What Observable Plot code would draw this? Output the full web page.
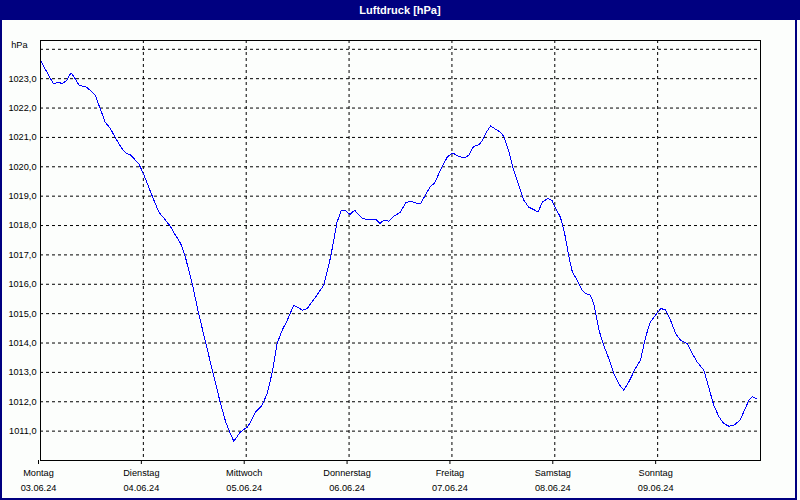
<!DOCTYPE html>
<html><head><meta charset="utf-8">
<script src="https://cdn.jsdelivr.net/npm/d3@7"></script>
<script src="https://cdn.jsdelivr.net/npm/@observablehq/plot@0.6"></script>
<style>
html,body{margin:0;padding:0;background:#fcfefc;width:800px;height:500px;overflow:hidden;}
#title{position:absolute;left:0;top:0;width:800px;height:20px;background:#000080;color:#fff;font:bold 11px "Liberation Sans",sans-serif;text-align:center;line-height:20px;}
#win{position:absolute;left:0;top:20px;width:797px;height:480px;box-sizing:border-box;border-left:2px solid #000080;border-right:2px solid #000080;border-bottom:2px solid #000080;background:#fcfefc;}
#chart svg{display:block;}
</style></head>
<body>
<div id="title">Luftdruck [hPa]</div>
<div id="win"><div id="chart"></div></div>
<script>
// hours after Monday 03.06.24 00:00
const hours = [0,3.0,4.2,5.1,6.1,7.1,8.1,9.0,10.8,12.8,13.5,15.1,16.3,17.4,19.0,20.1,20.9,22.9,24.0,26.4,27.6,29.2,30.3,31.5,32.7,33.8,35.4,36.9,38.5,40.1,42.0,43.2,44.3,45.1,46.7,48.2,49.0,50.2,51.7,52.9,54.1,55.2,56.4,57.6,59.1,61.1,62.2,64.2,66.1,67.7,69.2,70.2,71.2,72.2,73.3,75.1,76.6,78.2,79.2,80.1,81.3,82.4,84.0,85.2,86.3,87.5,88.7,89.8,91.0,91.9,93.3,94.9,96.1,97.6,98.8,99.9,101.1,102.3,103.1,103.8,105.0,106.2,107.3,108.1,109.3,110.4,111.6,112.8,113.9,115.1,116.1,117.1,118.4,119.4,120.2,121.3,122.3,123.3,124.1,125.2,126.4,127.2,128.3,129.1,130.3,131.4,132.6,133.8,134.9,136.1,137.3,138.8,140.0,141.2,142.3,143.5,144.7,145.8,147.0,148.2,149.3,150.9,152.1,153.2,154.8,155.9,157.1,158.3,159.4,160.6,161.8,163.2,164.1,165.3,166.1,167.0];
const pressure = [1023.62,1022.83,1022.88,1022.83,1022.94,1023.20,1023.00,1022.77,1022.71,1022.43,1022.15,1021.52,1021.30,1021.01,1020.62,1020.45,1020.42,1020.11,1019.77,1018.88,1018.46,1018.18,1017.97,1017.67,1017.39,1016.93,1016.02,1015.00,1014.04,1013.07,1011.94,1011.32,1010.92,1010.66,1010.98,1011.13,1011.30,1011.66,1011.88,1012.28,1013.02,1013.98,1014.44,1014.78,1015.29,1015.12,1015.17,1015.57,1015.97,1016.93,1018.12,1018.52,1018.50,1018.38,1018.52,1018.24,1018.20,1018.21,1018.07,1018.18,1018.15,1018.31,1018.46,1018.77,1018.83,1018.77,1018.75,1019.03,1019.34,1019.43,1019.88,1020.33,1020.47,1020.36,1020.30,1020.39,1020.70,1020.75,1020.90,1021.12,1021.39,1021.28,1021.18,1021.04,1020.50,1019.88,1019.37,1018.86,1018.63,1018.54,1018.46,1018.80,1018.92,1018.84,1018.58,1018.29,1017.73,1016.93,1016.42,1016.14,1015.80,1015.68,1015.63,1015.34,1014.44,1013.93,1013.47,1012.96,1012.62,1012.39,1012.68,1013.13,1013.42,1014.21,1014.72,1014.95,1015.17,1015.14,1014.78,1014.32,1014.10,1013.98,1013.64,1013.36,1013.07,1012.50,1011.88,1011.49,1011.26,1011.17,1011.20,1011.37,1011.66,1012.05,1012.17,1012.11];
const dayNames = ["Montag","Dienstag","Mittwoch","Donnerstag","Freitag","Samstag","Sonntag"];
const dateLabels = ["03.06.24","04.06.24","05.06.24","06.06.24","07.06.24","08.06.24","09.06.24"];
const yTickValues = [1011,1012,1013,1014,1015,1016,1017,1018,1019,1020,1021,1022,1023];
const yGridValues = [1011,1012,1013,1014,1015,1016,1017,1018,1019,1020,1021,1022,1023,1024];
const yDomain = [1010, 1024.3];
const yUnit = "hPa";

const start = Date.UTC(2024, 5, 3);
const HOUR = 3600e3, DAY = 24 * HOUR;
const data = hours.map((h, i) => ({t: new Date(start + h * HOUR), p: pressure[i]}));
const dayTicks = dayNames.map((_, i) => new Date(start + i * DAY));
const dayIdx = d => Math.round((+d - start) / DAY);

const chart = Plot.plot({
  width: 793, height: 478,
  marginLeft: 38, marginRight: 35, marginTop: 20, marginBottom: 38,
  style: {background: "transparent", fontFamily: "'Liberation Sans', sans-serif", fontSize: "9.2px", color: "#000", overflow: "visible"},
  x: {type: "utc", domain: [new Date(start), new Date(start + 7 * DAY)]},
  y: {domain: yDomain},
  marks: [
    Plot.ruleX(dayTicks.slice(1), {stroke: "#000", strokeDasharray: "3,3", strokeWidth: 1}),
    Plot.ruleY(yGridValues, {stroke: "#000", strokeDasharray: "3,3", strokeWidth: 1}),
    Plot.line(data, {x: "t", y: "p", stroke: "#0000ff", strokeWidth: 1, shapeRendering: "crispEdges"}),
    Plot.frame({stroke: "#000", strokeWidth: 1}),
    Plot.axisY(yTickValues, {tickSize: 0, tickPadding: 4, tickFormat: d => d.toFixed(1).replace(".", ","), label: null, fill: "#000"}),
    Plot.axisX(dayTicks, {tickSize: 4, tickPadding: 5, dx: -2, tickFormat: d => dayNames[dayIdx(d)], label: null, fill: "#000", stroke: "#000"}),
    Plot.axisX(dayTicks, {tickSize: 0, tickPadding: 24, dx: -2, tickFormat: d => dateLabels[dayIdx(d)], label: null, fill: "#000"}),
    Plot.text([yUnit], {frameAnchor: "top-left", dx: -13, dy: 5, textAnchor: "end", lineAnchor: "middle", fill: "#000"})
  ]
});
document.getElementById("chart").appendChild(chart);
</script>
</body></html>
